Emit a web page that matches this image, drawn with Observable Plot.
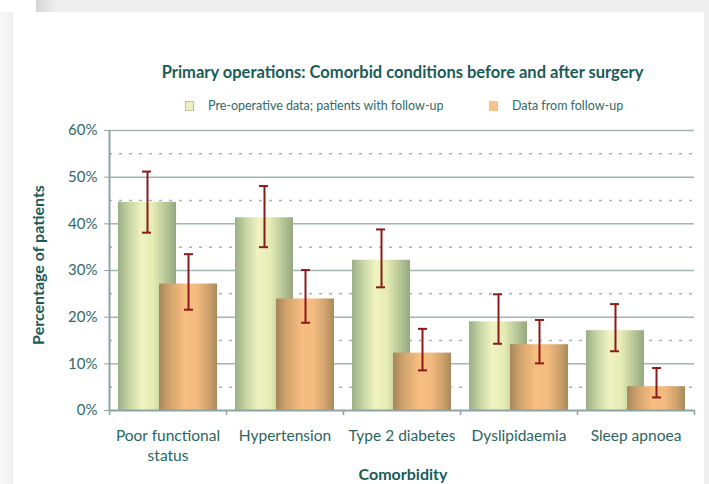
<!DOCTYPE html>
<html><head><meta charset="utf-8">
<script src="https://cdn.jsdelivr.net/npm/d3@7"></script>
<script src="https://cdn.jsdelivr.net/npm/@observablehq/plot@0.6"></script>
<style>
body{margin:0;width:709px;height:484px;overflow:hidden;position:relative;background:#eeeeee;font-family:Lato,sans-serif}
#lstrip{position:absolute;left:0;top:12px;width:13px;height:472px;background:linear-gradient(to right,#f8f8f8,#efefef)}
#card{position:absolute;left:13px;top:12px;width:691px;height:472px;background:#fff}
#topbox{position:absolute;left:0;top:0;width:36px;height:12px;background:#fff}
#shade{position:absolute;left:36px;top:0;width:20px;height:12px;background:linear-gradient(to right,#d6d6d6,#eeeeee)}
#title{position:absolute;left:0;width:805px;top:62px;text-align:center;font-weight:bold;font-size:16.5px;line-height:20px;color:#1b5b57;white-space:nowrap}
.leg{position:absolute;top:98px;font-size:12.5px;line-height:16px;color:#2f6a66;white-space:nowrap}
.sw{position:absolute;top:101px;width:9px;height:10px;box-sizing:border-box}
#chart{position:absolute;left:0;top:120px}
#ylab{position:absolute;left:37px;top:265px;transform:translate(-50%,-50%) rotate(-90deg);font-weight:bold;font-size:16px;color:#1b5b57;white-space:nowrap}
#xlab{position:absolute;left:403px;top:465px;transform:translateX(-50%);font-weight:bold;font-size:16px;line-height:18px;color:#1b5b57;white-space:nowrap}
</style></head>
<body>
<div id="lstrip"></div>
<div id="card"></div>
<div id="topbox"></div>
<div id="shade"></div>
<div id="title">Primary operations: Comorbid conditions before and after surgery</div>
<div class="sw" style="left:185px;background:#eef0c0;border:1px solid #b9c2a4"></div>
<div class="leg" style="left:208px">Pre-operative data; patients with follow-up</div>
<div class="sw" style="left:489px;background:#f9c28a"></div>
<div class="leg" style="left:512px">Data from follow-up</div>
<div id="chart"></div>
<div id="ylab">Percentage of patients</div>
<div id="xlab">Comorbidity</div>
<script>
const categories = ["Poor functional\nstatus", "Hypertension", "Type 2 diabetes", "Dyslipidaemia", "Sleep apnoea"];
const preValues = [44.6, 41.3, 32.2, 19.0, 17.1];
const preLow = [38.1, 35.0, 26.4, 14.3, 12.7];
const preHigh = [51.2, 48.1, 38.8, 24.9, 22.8];
const postValues = [27.1, 23.9, 12.3, 14.1, 5.1];
const postLow = [21.6, 18.8, 8.6, 10.1, 2.8];
const postHigh = [33.5, 30.1, 17.5, 19.4, 9.1];
const yTicks = [0, 10, 20, 30, 40, 50, 60];
const yMinor = [5, 15, 25, 35, 45, 55];

const pre = categories.map((c, i) => ({cat: c, v: preValues[i], lo: preLow[i], hi: preHigh[i]}));
const post = categories.map((c, i) => ({cat: c, v: postValues[i], lo: postLow[i], hi: postHigh[i]}));

const gridCol = "#a3b6b6";
const axisCol = "#8ea4a4";
const errCol = "#8b1a1a";

const plot = Plot.plot({
  width: 709,
  height: 364,
  marginLeft: 109,
  marginRight: 15,
  marginTop: 10,
  marginBottom: 74,
  style: {fontFamily: "Lato, sans-serif", background: "transparent", overflow: "visible"},
  x: {domain: categories, padding: 0, axis: null},
  y: {domain: [0, 60], axis: null},
  marks: [
    Plot.ruleY(yMinor, {stroke: gridCol, strokeWidth: 1.5, strokeDasharray: "3,7"}),
    Plot.ruleY(yTicks.slice(1), {stroke: gridCol, strokeWidth: 1.5}),
    Plot.barY(pre, {x: "cat", y: "v", fill: "url(#gGreen)", insetLeft: 9, insetRight: 50}),
    Plot.ruleX(pre, {x: "cat", y1: "lo", y2: "hi", dx: -20.5, stroke: errCol, strokeWidth: 2}),
    Plot.tickY(pre, {x: "cat", y: "hi", insetLeft: 33, insetRight: 75, stroke: errCol, strokeWidth: 2}),
    Plot.tickY(pre, {x: "cat", y: "lo", insetLeft: 33, insetRight: 75, stroke: errCol, strokeWidth: 2}),
    Plot.barY(post, {x: "cat", y: "v", fill: "url(#gOrange)", insetLeft: 50, insetRight: 9}),
    Plot.ruleX(post, {x: "cat", y1: "lo", y2: "hi", dx: 20.5, stroke: errCol, strokeWidth: 2}),
    Plot.tickY(post, {x: "cat", y: "hi", insetLeft: 75, insetRight: 33, stroke: errCol, strokeWidth: 2}),
    Plot.tickY(post, {x: "cat", y: "lo", insetLeft: 75, insetRight: 33, stroke: errCol, strokeWidth: 2}),
    Plot.ruleY([0], {stroke: axisCol, strokeWidth: 2}),
    Plot.ruleX([categories[0]], {x: d => d, y1: 0, y2: 60, dx: -58.5, stroke: axisCol, strokeWidth: 2}),
    Plot.ruleX(categories, {x: d => d, y1: 0, y2: -1.1, dx: -58.5, stroke: axisCol, strokeWidth: 1.5}),
    Plot.ruleX([categories[categories.length - 1]], {x: d => d, y1: 0, y2: -1.1, dx: 58.5, stroke: axisCol, strokeWidth: 1.5}),
    Plot.axisY({ticks: yTicks, tickFormat: d => d + "%", tickSize: 5, tickPadding: 7, stroke: axisCol, fill: "#336866", fontSize: 15, label: null}),
    Plot.axisX({tickSize: 0, tickPadding: 16, fill: "#2b6562", fontSize: 15.5, lineHeight: 1.3, label: null})
  ]
});

const svg = d3.select(plot);
const defs = svg.insert("defs", ":first-child");
const gg = defs.append("linearGradient").attr("id", "gGreen").attr("x1", 0).attr("x2", 1).attr("y1", 0).attr("y2", 0);
[[0, "#9bae86"], [0.18, "#c5d3a2"], [0.4, "#f0f3c2"], [0.6, "#e6ecb5"], [0.85, "#b2c294"], [1, "#95a87f"]]
  .forEach(([o, c]) => gg.append("stop").attr("offset", o).attr("stop-color", c));
const go = defs.append("linearGradient").attr("id", "gOrange").attr("x1", 0).attr("x2", 1).attr("y1", 0).attr("y2", 0);
[[0, "#a6875a"], [0.2, "#d5a56e"], [0.45, "#f7be80"], [0.65, "#f3bb7f"], [0.85, "#d0a26c"], [1, "#a8895c"]]
  .forEach(([o, c]) => go.append("stop").attr("offset", o).attr("stop-color", c));

document.getElementById("chart").appendChild(plot);
</script>
</body></html>
